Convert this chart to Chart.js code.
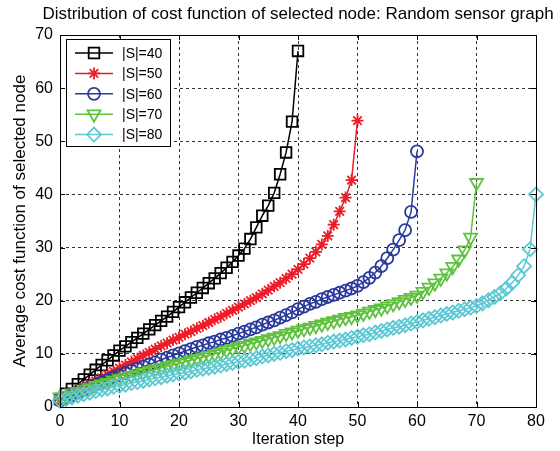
<!DOCTYPE html>
<html>
<head>
<meta charset="utf-8">
<script src="https://cdn.jsdelivr.net/npm/chart.js@4/dist/chart.umd.min.js"></script>
<style>
  body { margin: 0; background: #fff; }
  canvas { display: block; }
</style>
</head>
<body>
<canvas id="cost_chart" width="560" height="451"></canvas>
<script>
// average cost per iteration step (index = step)
var s40 = [1.5,2.5,3.4,4.3,5.2,6.1,7.0,7.9,8.8,9.7,
    10.6,11.4,12.2,13.0,13.8,14.6,15.4,16.2,17.0,17.9,
    18.8,19.7,20.6,21.5,22.4,23.3,24.2,25.2,26.2,27.3,
    28.5,29.8,31.6,33.8,36.0,37.9,40.3,43.8,47.9,53.7,
    67.0];
var s50 = [1.3,1.9,2.5,3.1,3.7,4.3,4.9,5.5,6.1,6.7,
    7.3,7.9,8.5,9.1,9.7,10.3,10.9,11.5,12.0,12.6,
    13.1,13.7,14.2,14.8,15.3,15.9,16.5,17.0,17.6,18.2,
    18.8,19.4,20.0,20.6,21.3,22.0,22.7,23.4,24.2,25.0,
    25.9,26.9,28.0,29.2,30.6,32.2,34.3,36.8,39.4,42.7,
    53.9];
var s60 = [1.2,1.7,2.2,2.7,3.2,3.7,4.2,4.7,5.1,5.6,
    6.0,6.4,6.8,7.2,7.6,8.0,8.4,8.9,9.3,9.7,
    10.1,10.5,10.9,11.3,11.6,12.0,12.3,12.7,13.0,13.4,
    13.8,14.2,14.6,15.0,15.5,15.9,16.3,16.8,17.3,17.8,
    18.4,18.9,19.4,19.8,20.3,20.7,21.1,21.5,21.9,22.3,
    22.8,23.5,24.3,25.3,26.5,28.0,29.6,31.4,33.3,36.7,
    48.1];
var s70 = [1.8,2.2,2.6,2.9,3.3,3.6,4.0,4.3,4.6,5.0,
    5.3,5.6,5.9,6.2,6.5,6.8,7.1,7.4,7.7,7.9,
    8.2,8.5,8.8,9.1,9.4,9.7,10.0,10.3,10.7,11.0,
    11.3,11.6,11.9,12.2,12.5,12.8,13.1,13.4,13.8,14.1,
    14.4,14.7,15.0,15.3,15.6,15.9,16.2,16.5,16.8,17.0,
    17.3,17.6,18.0,18.3,18.6,19.0,19.4,19.8,20.2,20.6,
    21.0,21.7,22.5,23.3,24.2,25.2,26.4,27.8,29.5,31.9,
    42.2];
var s80 = [1.2,1.5,1.8,2.1,2.4,2.7,3.0,3.3,3.5,3.8,
    4.0,4.2,4.5,4.7,4.9,5.2,5.4,5.6,5.9,6.1,
    6.3,6.5,6.7,7.0,7.2,7.4,7.6,7.8,8.1,8.3,
    8.5,8.7,9.0,9.2,9.5,9.7,10.0,10.2,10.5,10.7,
    11.0,11.2,11.4,11.6,11.8,12.1,12.3,12.5,12.7,13.0,
    13.2,13.5,13.7,14.0,14.3,14.6,14.9,15.1,15.4,15.7,
    16.0,16.3,16.6,16.9,17.2,17.5,17.8,18.1,18.4,18.7,
    19.0,19.5,20.1,20.7,21.4,22.3,23.4,24.8,26.5,29.7,
    40.0];

var labels = ["|S|=40", "|S|=50", "|S|=60", "|S|=70", "|S|=80"];
var xTicks = [0, 10, 20, 30, 40, 50, 60, 70, 80];
var yTicks = [0, 10, 20, 30, 40, 50, 60, 70];
var chartTitle = 'Distribution of cost function of selected node: Random sensor graph';

var FONT = "'Liberation Sans', Arial, Helvetica, sans-serif";

function pts(vals) {
    return vals.map(function (v, i) { return {x: i, y: v}; });
}

function series(idx, vals, color, style, radius, rot) {
    return {
        label: labels[idx],
        data: pts(vals),
        borderColor: color,
        backgroundColor: color,
        borderWidth: 1.5,
        pointStyle: style,
        pointRadius: radius,
        pointRotation: rot || 0,
        pointBorderColor: color,
        pointBackgroundColor: 'rgba(0,0,0,0)',
        pointBorderWidth: 1.8,
        tension: 0,
        clip: false,
        order: 5 - idx
    };
}

// matlab-ish box, inward ticks, title over the axes and inset legend
var boxPlugin = {
    id: 'boxPlugin',
    afterDatasetsDraw: function (chart) {
        var ctx = chart.ctx, a = chart.chartArea;
        var xs = chart.scales.x, ys = chart.scales.y;
        ctx.save();
        ctx.strokeStyle = '#000';
        ctx.lineWidth = 1;
        ctx.setLineDash([]);
        ctx.strokeRect(a.left + 0.5, a.top + 0.5, a.right - a.left, a.bottom - a.top);
        ctx.beginPath();
        xTicks.forEach(function (t) {
            var px = Math.round(xs.getPixelForValue(t)) + 0.5;
            ctx.moveTo(px, a.bottom); ctx.lineTo(px, a.bottom - 5);
            ctx.moveTo(px, a.top); ctx.lineTo(px, a.top + 5);
        });
        yTicks.forEach(function (t) {
            var py = Math.round(ys.getPixelForValue(t)) + 0.5;
            ctx.moveTo(a.left, py); ctx.lineTo(a.left + 5, py);
            ctx.moveTo(a.right, py); ctx.lineTo(a.right - 5, py);
        });
        ctx.stroke();

        // title centred on the axes box
        ctx.fillStyle = '#000';
        ctx.font = '17px ' + FONT;
        ctx.textAlign = 'center';
        ctx.textBaseline = 'middle';
        ctx.fillText(chartTitle, (a.left + a.right) / 2, 14);

        // legend
        var lx = 66, ly = 39, lw = 104, lh = 107;
        ctx.fillStyle = '#fff';
        ctx.fillRect(lx, ly, lw, lh);
        ctx.strokeRect(lx + 0.5, ly + 0.5, lw, lh);
        ctx.font = '14px ' + FONT;
        ctx.textAlign = 'left';
        chart.data.datasets.forEach(function (ds, i) {
            var y = 53 + i * 20.4;
            ctx.strokeStyle = ds.borderColor;
            ctx.lineWidth = 1.5;
            ctx.beginPath();
            ctx.moveTo(75, y); ctx.lineTo(113, y);
            ctx.stroke();
            ctx.fillStyle = 'rgba(0,0,0,0)';
            ctx.lineWidth = 1.8;
            if (Chart.helpers && Chart.helpers.drawPoint) {
                Chart.helpers.drawPoint(ctx, {
                    pointStyle: ds.pointStyle,
                    rotation: ds.pointRotation,
                    radius: ds.pointRadius,
                    borderWidth: 1.8
                }, 94, y);
            }
            ctx.fillStyle = '#000';
            ctx.fillText(ds.label, 122, y + 1);
        });
        ctx.restore();
    }
};

var ctx = document.getElementById("cost_chart");

var myChart = new Chart(ctx, {
    type: 'line',
    data: {
        datasets: [
            series(0, s40, '#000000', 'rect', 7.5),
            series(1, s50, '#ec1c28', 'star', 6),
            series(2, s60, '#283a9c', 'circle', 6),
            series(3, s70, '#5fc13e', 'triangle', 7.5, 180),
            series(4, s80, '#5cc8d4', 'rectRot', 7)
        ]
    },
    options: {
        responsive: false,
        animation: false,
        layout: {padding: {left: 0, right: 24, top: 35, bottom: 0}},
        plugins: {
            legend: {display: false},
            tooltip: {enabled: false},
            title: {display: false}
        },
        scales: {
            x: {
                type: 'linear',
                min: 0, max: 80,
                afterFit: function (s) { s.height = 44; },
                ticks: {
                    stepSize: 10, color: '#000', padding: 5,
                    font: {family: FONT, size: 16}
                },
                grid: {color: '#000', lineWidth: 0.8, drawTicks: false},
                border: {display: false, dash: [3, 3]},
                title: {
                    display: true, text: 'Iteration step', color: '#000',
                    font: {family: FONT, size: 16},
                    padding: {top: 0, bottom: 2}
                }
            },
            y: {
                type: 'linear',
                min: 0, max: 70,
                afterFit: function (s) { s.width = 60; },
                ticks: {
                    stepSize: 10, color: '#000', padding: 7,
                    font: {family: FONT, size: 16}
                },
                grid: {color: '#000', lineWidth: 0.8, drawTicks: false},
                border: {display: false, dash: [3, 3]},
                title: {
                    display: true, text: 'Average cost function of selected node', color: '#000',
                    font: {family: FONT, size: 17},
                    padding: {top: 10, bottom: 0}
                }
            }
        }
    },
    plugins: [boxPlugin]
});
</script>
</body>
</html>
